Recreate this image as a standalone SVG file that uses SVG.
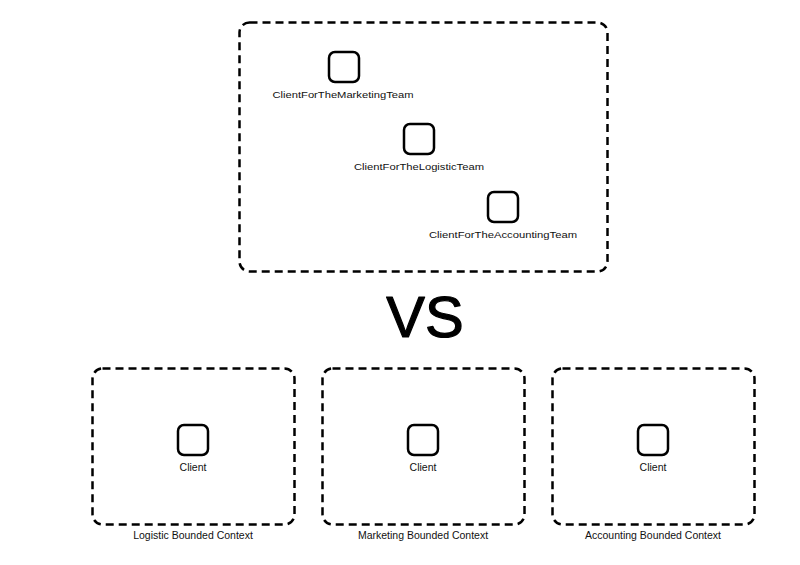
<svg xmlns="http://www.w3.org/2000/svg" width="800" height="565" viewBox="0 0 800 565">
<style>
.ctx{fill:none;stroke:#000;stroke-width:2.5;stroke-dasharray:8 5}
.cls{fill:#fff;stroke:#000;stroke-width:2.5}
.lbl{font-family:"Liberation Sans",Arial,sans-serif;font-size:9.5px;fill:#111;text-anchor:middle}
.blbl{font-family:"Liberation Sans",Arial,sans-serif;font-size:10.5px;fill:#111;text-anchor:middle}
.vs{font-family:"Liberation Sans",Arial,sans-serif;font-size:58px;fill:#000;stroke:#000;stroke-width:1.2;stroke-linejoin:round;text-anchor:middle}
</style>
<rect width="800" height="565" fill="#fff"/>
<g id="top-context">
<rect class="ctx" x="239.5" y="22.5" width="368" height="249" rx="10"/>
</g>
<g id="client-marketing-team">
<rect class="cls" x="329" y="52" width="30" height="30" rx="6"/>
<text class="lbl" x="343" y="98" textLength="141" lengthAdjust="spacingAndGlyphs">ClientForTheMarketingTeam</text>
</g>
<g id="client-logistic-team">
<rect class="cls" x="404" y="124" width="30" height="30" rx="6"/>
<text class="lbl" x="419" y="170" textLength="130" lengthAdjust="spacingAndGlyphs">ClientForTheLogisticTeam</text>
</g>
<g id="client-accounting-team">
<rect class="cls" x="488" y="192" width="30" height="30" rx="6"/>
<text class="lbl" x="503" y="238" textLength="148" lengthAdjust="spacingAndGlyphs">ClientForTheAccountingTeam</text>
</g>
<text class="vs" x="425" y="337">VS</text>
<g id="logistic-context">
<rect class="ctx" x="92.5" y="368.5" width="202" height="156" rx="10"/>
<rect class="cls" x="178" y="425" width="30" height="30" rx="6"/>
<text class="blbl" x="193" y="471">Client</text>
<text class="blbl" x="193" y="539">Logistic Bounded Context</text>
</g>
<g id="marketing-context">
<rect class="ctx" x="322.5" y="368.5" width="202" height="156" rx="10"/>
<rect class="cls" x="408" y="425" width="30" height="30" rx="6"/>
<text class="blbl" x="423" y="471">Client</text>
<text class="blbl" x="423" y="539">Marketing Bounded Context</text>
</g>
<g id="accounting-context">
<rect class="ctx" x="552.5" y="368.5" width="202" height="156" rx="10"/>
<rect class="cls" x="638" y="425" width="30" height="30" rx="6"/>
<text class="blbl" x="653" y="471">Client</text>
<text class="blbl" x="653" y="539">Accounting Bounded Context</text>
</g>
<g id="connectors"></g>
</svg>
